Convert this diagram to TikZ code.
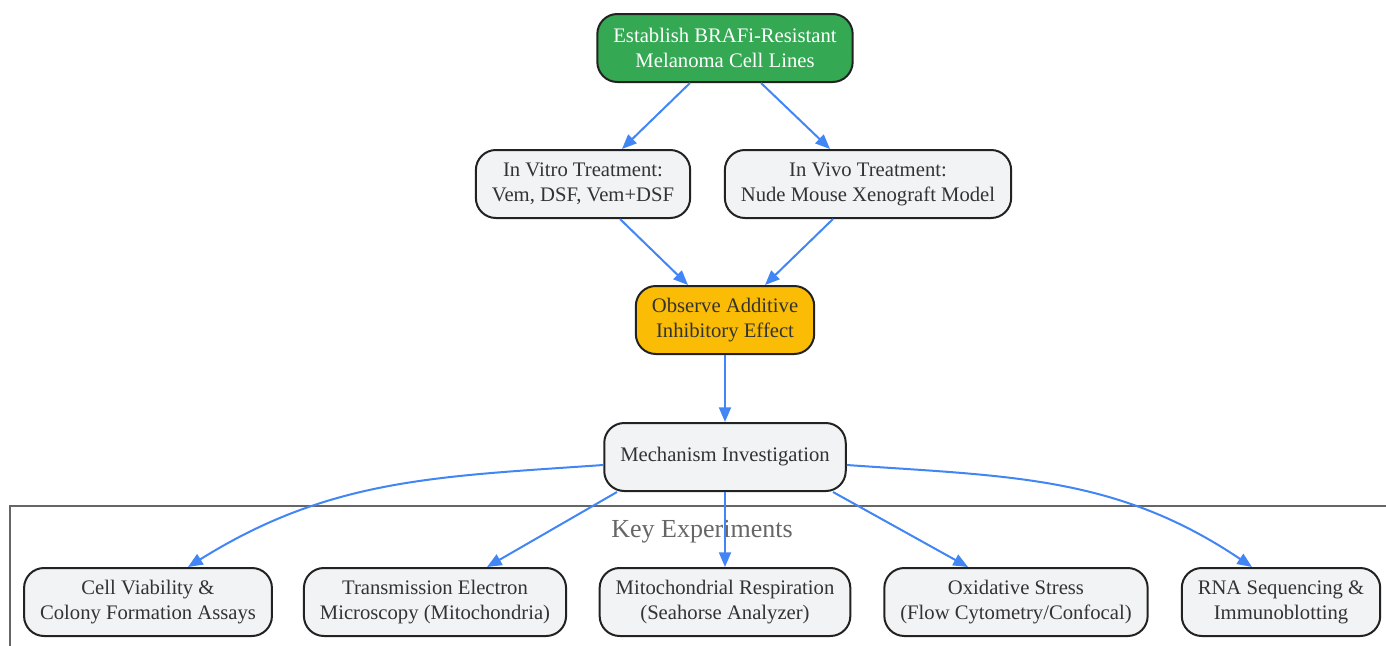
\documentclass[tikz,border=0pt]{standalone}
\usepackage{fontspec}
\setmainfont{Liberation Serif}
\usetikzlibrary{arrows.meta}
\definecolor{arrowblue}{HTML}{4285F4}
\definecolor{boxgray}{HTML}{F1F3F4}
\definecolor{boxline}{HTML}{222222}
\definecolor{textdark}{HTML}{333333}
\definecolor{startgreen}{HTML}{34A853}
\definecolor{effectyellow}{HTML}{FBBC05}
\definecolor{framegray}{HTML}{666666}
\begin{document}
\begin{tikzpicture}[x=0.75pt, y=-0.75pt,
    box/.style = {shape=rectangle, draw=boxline, line width=1.5pt,
      rounded corners=15pt, fill=boxgray, text=textdark, align=center,
      minimum height=51pt, inner xsep=12pt,
      font=\fontsize{15.5pt}{18.75pt}\selectfont},
    startbox/.style = {box, fill=startgreen, text=white},
    effectbox/.style = {box, fill=effectyellow},
    arr/.style = {draw=arrowblue, line width=1.5pt,
      -{Triangle[length=11pt,width=9pt]}}]
  \clip (0,0) rectangle (1386,646);
  % cluster frame
  \draw[framegray, line width=1.1pt] (10,506) rectangle (1400,660);
  \node[text=framegray, font=\fontsize{19.5pt}{23pt}\selectfont] (keylabel) at (702,532) {Key Experiments};

  \node[startbox] (establish) at (725,48) {Establish BRAFi-Resistant\\Melanoma Cell Lines};
  \node[box] (invitro) at (583,184) {In Vitro Treatment:\\Vem, DSF, Vem+DSF};
  \node[box] (invivo) at (868,184) {In Vivo Treatment:\\Nude Mouse Xenograft Model};
  \node[effectbox] (observe) at (725,320) {Observe Additive\\Inhibitory Effect};
  \node[box] (mechanism) at (725,457) {Mechanism Investigation};

  \node[box] (viability) at (148,602) {Cell Viability \&\\Colony Formation Assays};
  \node[box] (tem) at (435,602) {Transmission Electron\\Microscopy (Mitochondria)};
  \node[box] (respiration) at (725,602) {Mitochondrial Respiration\\(Seahorse Analyzer)};
  \node[box] (oxidative) at (1016,602) {Oxidative Stress\\(Flow Cytometry/Confocal)};
  \node[box] (rnaseq) at (1281,602) {RNA Sequencing \&\\Immunoblotting};

  \draw[arr] ([xshift=-26.25pt]establish.south) -- ([xshift=29.25pt]invitro.north);
  \draw[arr] ([xshift=27pt]establish.south) -- ([xshift=-28.5pt]invivo.north);
  \draw[arr] ([xshift=27.75pt]invitro.south) -- ([xshift=-27.75pt]observe.north);
  \draw[arr] ([xshift=-26.25pt]invivo.south) -- ([xshift=30pt]observe.north);
  \draw[arr] (observe) -- (mechanism);

  \draw[arr] ([yshift=-6pt]mechanism.west) to[out=184, in=32] ([xshift=30pt]viability.north);
  \draw[arr] ([xshift=-81pt]mechanism.south) -- ([xshift=39pt]tem.north);
  \draw[arr] (mechanism) -- (respiration);
  \draw[arr] ([xshift=81pt]mechanism.south) -- ([xshift=-36pt]oxidative.north);
  \draw[arr] ([yshift=-6pt]mechanism.east) to[out=-4, in=146] ([xshift=-21.75pt]rnaseq.north);
\end{tikzpicture}
\end{document}
